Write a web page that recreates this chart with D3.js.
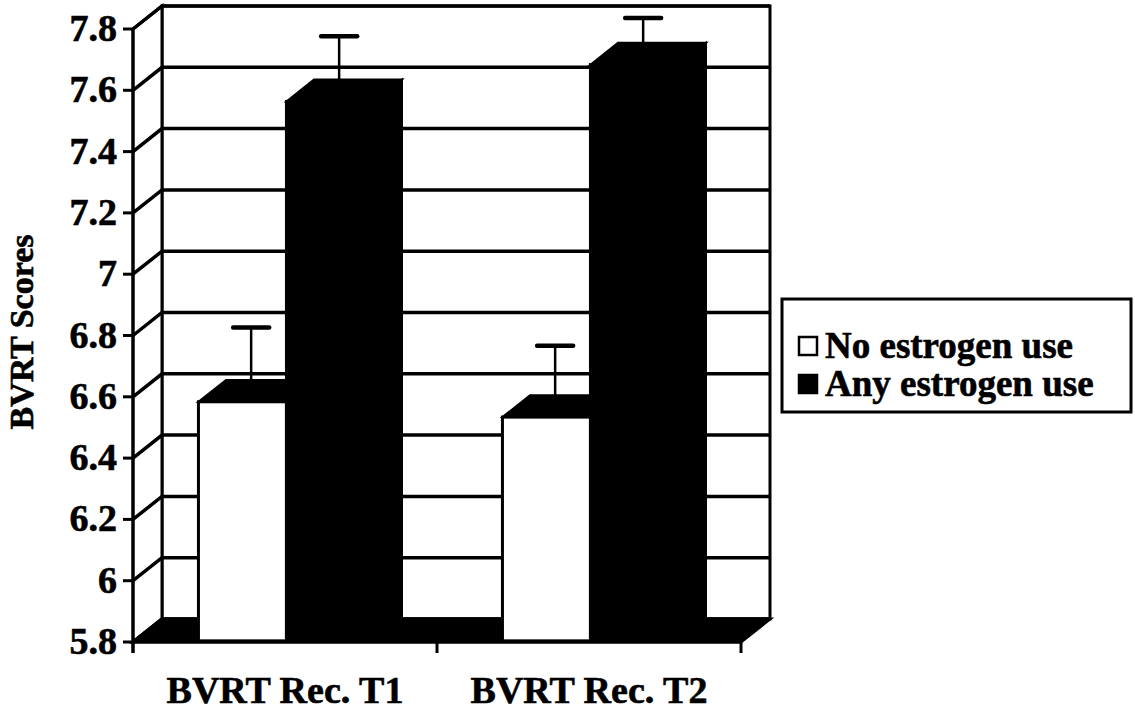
<!DOCTYPE html>
<html>
<head>
<meta charset="utf-8">
<script src="https://cdn.jsdelivr.net/npm/d3@7"></script>
<style>
  body { margin: 0; background: #fff; }
  svg text { font-family: "Liberation Serif", "Times New Roman", serif; font-weight: bold; fill: #000; stroke: #000; stroke-width: 0.6; }
</style>
</head>
<body>
<div id="main"></div>
<script>
// data
const categories = ["BVRT Rec. T1", "BVRT Rec. T2"];
const seriesNames = ["No estrogen use", "Any estrogen use"];
const noEstrogen = [6.58, 6.53];
const anyEstrogen = [7.56, 7.68];
const noEstrogenErr = [0.22, 0.21];
const anyEstrogenErr = [0.19, 0.13];
const yTicks = [5.8, 6, 6.2, 6.4, 6.6, 6.8, 7, 7.2, 7.4, 7.6, 7.8];
const yTickLabels = ["5.8", "6", "6.2", "6.4", "6.6", "6.8", "7", "7.2", "7.4", "7.6", "7.8"];

const ctx = {
    WIDTH: 1135,
    HEIGHT: 713,
    X0: 133, X1: 741,   // front plane
    DX: 29, DY: -23,     // depth offset of back wall
    BAR_FRONT: 0.05, BAR_BACK: 1.0,
    ERR_DEPTH: 0.35,
};

const y = d3.scaleLinear().domain([5.8, 7.8]).range([642, 29]);
const x = d3.scaleBand().domain(categories).range([ctx.X0, ctx.X1]);
const xSeries = d3.scaleBand().domain(seriesNames).range([64, 240]);
const fills = ["#fff", "#000"];

// project a point (x on front plane, value, depth 0..1)
function proj(px, v, d){
    return [px + d * ctx.DX, y(v) + d * ctx.DY];
}
function poly(pts){
    return "M" + pts.map(p => p.join(",")).join("L") + "Z";
}

function createViz(){
    const svg = d3.select("#main").append("svg")
        .attr("width", ctx.WIDTH).attr("height", ctx.HEIGHT);
    const vMin = yTicks[0], vMax = yTicks[yTicks.length - 1];
    const wallG = svg.append("g");

    // back wall
    wallG.append("path")
        .attr("d", poly([proj(ctx.X0, vMin, 1), proj(ctx.X1, vMin, 1), proj(ctx.X1, vMax, 1), proj(ctx.X0, vMax, 1)]))
        .attr("fill", "#fff").attr("stroke", "#000").attr("stroke-width", 3);
    // left side wall
    wallG.append("path")
        .attr("d", poly([proj(ctx.X0, vMin, 0), proj(ctx.X0, vMax, 0), proj(ctx.X0, vMax, 1), proj(ctx.X0, vMin, 1)]))
        .attr("fill", "#fff").attr("stroke", "#000").attr("stroke-width", 3);
    // gridlines
    wallG.selectAll("path.grid")
        .data(yTicks)
        .enter()
        .append("path")
        .attr("class", "grid")
        .attr("d", t => {
            const a = proj(ctx.X0, t, 0), b = proj(ctx.X0, t, 1), c = proj(ctx.X1, t, 1);
            return `M${a}L${b}L${c}`;
        })
        .attr("fill", "none").attr("stroke", "#000").attr("stroke-width", 3.5);
    // floor
    wallG.append("path")
        .attr("d", poly([proj(ctx.X0, vMin, 0), proj(ctx.X1, vMin, 0), proj(ctx.X1, vMin, 1), proj(ctx.X0, vMin, 1)]))
        .attr("fill", "#000").attr("stroke", "#000").attr("stroke-width", 3);

    // axis lines and ticks
    const axG = svg.append("g").attr("stroke", "#000").attr("stroke-width", 3);
    axG.append("line").attr("x1", ctx.X0).attr("x2", ctx.X0).attr("y1", y(vMax)).attr("y2", y(vMin) + 11);
    axG.append("line").attr("x1", ctx.X0).attr("x2", ctx.X1).attr("y1", y(vMin)).attr("y2", y(vMin));
    axG.selectAll("line.yt").data(yTicks).enter().append("line")
        .attr("x1", ctx.X0 - 10).attr("x2", ctx.X0)
        .attr("y1", d => y(d)).attr("y2", d => y(d));
    const catEdges = categories.map(c => x(c)).concat([ctx.X1]);
    axG.selectAll("line.xt").data(catEdges).enter().append("line")
        .attr("x1", d => d).attr("x2", d => d)
        .attr("y1", y(vMin)).attr("y2", y(vMin) + 11);

    // tick labels
    svg.append("g").selectAll("text")
        .data(yTicks)
        .enter()
        .append("text")
        .attr("x", 117)
        .attr("y", d => y(d) + 12)
        .attr("text-anchor", "end")
        .attr("font-size", 38)
        .text((d, i) => yTickLabels[i]);

    svg.append("g").selectAll("text")
        .data(categories)
        .enter()
        .append("text")
        .attr("x", d => x(d) + x.bandwidth() / 2)
        .attr("y", 703)
        .attr("text-anchor", "middle")
        .attr("font-size", 38)
        .text(d => d);

    svg.append("text")
        .attr("transform", "translate(33,332) rotate(-90)")
        .attr("text-anchor", "middle")
        .attr("font-size", 34)
        .text("BVRT Scores");

    // bars
    const bars = [];
    categories.forEach((c, i) => {
        [noEstrogen, anyEstrogen].forEach((vals, j) => {
            bars.push({
                cat: c, series: seriesNames[j], j: j,
                value: vals[i],
                err: [noEstrogenErr, anyEstrogenErr][j][i],
            });
        });
    });

    const barG = svg.append("g");
    bars.forEach(d => {
        const xl = x(d.cat) + xSeries(d.series);
        const xr = xl + xSeries.bandwidth();
        const f = ctx.BAR_FRONT, b = ctx.BAR_BACK;
        const g = barG.append("g");
        // right side
        g.append("path")
            .attr("d", poly([proj(xr, vMin, f), proj(xr, d.value, f), proj(xr, d.value, b), proj(xr, vMin, b)]))
            .attr("fill", "#000").attr("stroke", "#000").attr("stroke-width", 2);
        // top
        g.append("path")
            .attr("d", poly([proj(xl, d.value, f), proj(xr, d.value, f), proj(xr, d.value, b), proj(xl, d.value, b)]))
            .attr("fill", "#000").attr("stroke", "#000").attr("stroke-width", 2);
        // front
        const p0 = proj(xl, d.value, f), p1 = proj(xr, vMin, f);
        g.append("rect")
            .attr("x", p0[0]).attr("y", p0[1])
            .attr("width", p1[0] - p0[0]).attr("height", p1[1] - p0[1])
            .attr("fill", fills[d.j]).attr("stroke", "#000").attr("stroke-width", 3);
    });

    // error bars
    const errG = svg.append("g").attr("stroke", "#000");
    bars.forEach(d => {
        const xc = x(d.cat) + xSeries(d.series) + xSeries.bandwidth() / 2;
        const lo = proj(xc, d.value, ctx.ERR_DEPTH);
        const hi = proj(xc, d.value + d.err, ctx.ERR_DEPTH);
        errG.append("line")
            .attr("x1", lo[0]).attr("x2", hi[0]).attr("y1", lo[1]).attr("y2", hi[1])
            .attr("stroke-width", 2.5);
        errG.append("line")
            .attr("x1", hi[0] - 18).attr("x2", hi[0] + 18).attr("y1", hi[1]).attr("y2", hi[1])
            .attr("stroke-width", 4.5).attr("stroke-linecap", "round");
    });

    // legend
    const leg = svg.append("g");
    leg.append("rect")
        .attr("x", 782).attr("y", 299).attr("width", 349).attr("height", 113)
        .attr("fill", "#fff").attr("stroke", "#000").attr("stroke-width", 3);
    const items = leg.selectAll("g.item")
        .data(seriesNames)
        .enter()
        .append("g")
        .attr("transform", (d, i) => `translate(798,${336 + i * 38})`);
    items.append("rect")
        .attr("x", 1).attr("y", 1).attr("width", 18).attr("height", 18)
        .attr("fill", (d, i) => fills[i]).attr("stroke", "#000").attr("stroke-width", 2.5);
    items.append("text")
        .attr("x", 27).attr("y", 22)
        .attr("font-size", 37)
        .text(d => d);
}

createViz();
</script>
</body>
</html>
